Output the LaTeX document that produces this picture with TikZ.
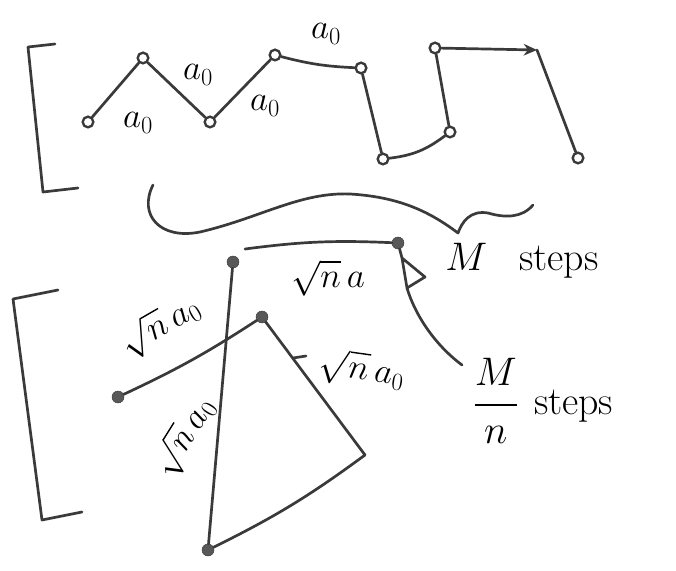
\RequirePackage{fix-cm}
\documentclass[tikz,border=0pt]{standalone}
\usepackage{amsmath,amssymb}
\usepackage{xcolor}
\usepackage{tikz}
\usetikzlibrary{arrows.meta}

\definecolor{pen}{HTML}{3A3A3A}

\tikzset{
  site/.style={circle, draw=pen, line width=2pt, fill=white, minimum size=3.2mm, inner sep=0pt},
  bead/.style={circle, draw=pen, fill=pen!85, minimum size=3.6mm, inner sep=0pt},
  link/.style={draw=pen, line width=2.3pt, line cap=round, line join=round},
  lbl/.style={font=\fontsize{30}{34}\selectfont, inner sep=1pt},
  biglbl/.style={font=\fontsize{34}{40}\selectfont, inner sep=1pt},
}

\begin{document}
\begin{tikzpicture}[x=0.03cm, y=-0.03cm, >={Stealth[length=4mm, width=3.5mm]}]
\useasboundingbox (0,0) rectangle (676,571);

%--- Top: random walk of M steps ---
\draw[link] (55,44) -- (28,47) -- (43,192) -- (78,188);

\node[site] (p1) at (88,122) {};
\node[site] (p2) at (143,58) {};
\node[site] (p3) at (210,122) {};
\node[site] (p4) at (275,55) {};
\node[site] (p5) at (361,68) {};
\node[site] (p6) at (383,159) {};
\node[site] (p7) at (450,132) {};
\node[site] (p8) at (435,48) {};
\coordinate (p9) at (537,50);
\node[site] (p10) at (578,158) {};

\draw[link] (p1) -- (p2) -- (p3) -- (p4);
\draw[link] (p4) to[bend right=6] (p5);
\draw[link] (p5) -- (p6);
\draw[link] (p6) to[bend right=15] (p7);
\draw[link] (p7) -- (p8);
\draw[link, ->] (p8) -- (p9);
\draw[link] (p9) -- (p10);

% step lengths
\node[lbl] (la) at (138,123) {$a_0$};
\node[lbl] (lb) at (198,75) {$a_0$};
\node[lbl] (lc) at (265,106) {$a_0$};
\node[lbl] (ld) at (326,34) {$a_0$};

% brace
\draw[link] (153,185) .. controls (138,215) and (160,240) .. (200,232)
  .. controls (260,218) and (300,192) .. (350,194)
  .. controls (400,197) and (430,212) .. (458,233)
  .. controls (462,222) and (470,210) .. (488,213)
  .. controls (505,218) and (522,218) .. (533,205);

\node[biglbl, anchor=west] (msteps) at (444,261) {$M$\hspace{0.8em}steps};

%--- Bottom: coarse walk of M/n steps ---
\draw[link] (58,290) -- (13,299) -- (42,520) -- (82,512);

\node[bead] (q1) at (233,262) {};
\node[bead] (q2) at (208,550) {};
\node[bead] (q3) at (118,397) {};
\node[bead] (q4) at (262,317) {};
\coordinate (q5) at (365,455);
\node[bead] (q6) at (398,243) {};
\coordinate (q0) at (245,249);
\coordinate (q7) at (462,365);

\draw[link] (q1) -- (q2);
\draw[link] (q2) to[bend right=5] (q5);
\draw[link] (q5) -- (q4);
\draw[link] (q4) to[bend left=4] (q3);
\draw[link] (q0) to[bend left=5] (q6);
\draw[link] (q6) -- (402,258) -- (425,277) -- (407,288) -- (402,258);
\draw[link] (407,288) .. controls (415,315) and (435,345) .. (q7);
\draw[link] (293,358) -- (306,356);

\node[lbl, rotate=30] (lq1) at (160,326) {$\sqrt{n}\,a_0$};
\node[lbl, rotate=58] (lq2) at (184,437) {$\sqrt{n}\,a_0$};
\node[lbl] (lq3) at (328,278) {$\sqrt{n}\,a$};
\node[lbl, rotate=-8] (lq4) at (362,370) {$\sqrt{n}\,a_0$};

\node[biglbl, anchor=west] (mnsteps) at (472,405) {$\dfrac{\strut M}{\strut n}$\hspace{0.4em}steps};
\end{tikzpicture}
\end{document}
